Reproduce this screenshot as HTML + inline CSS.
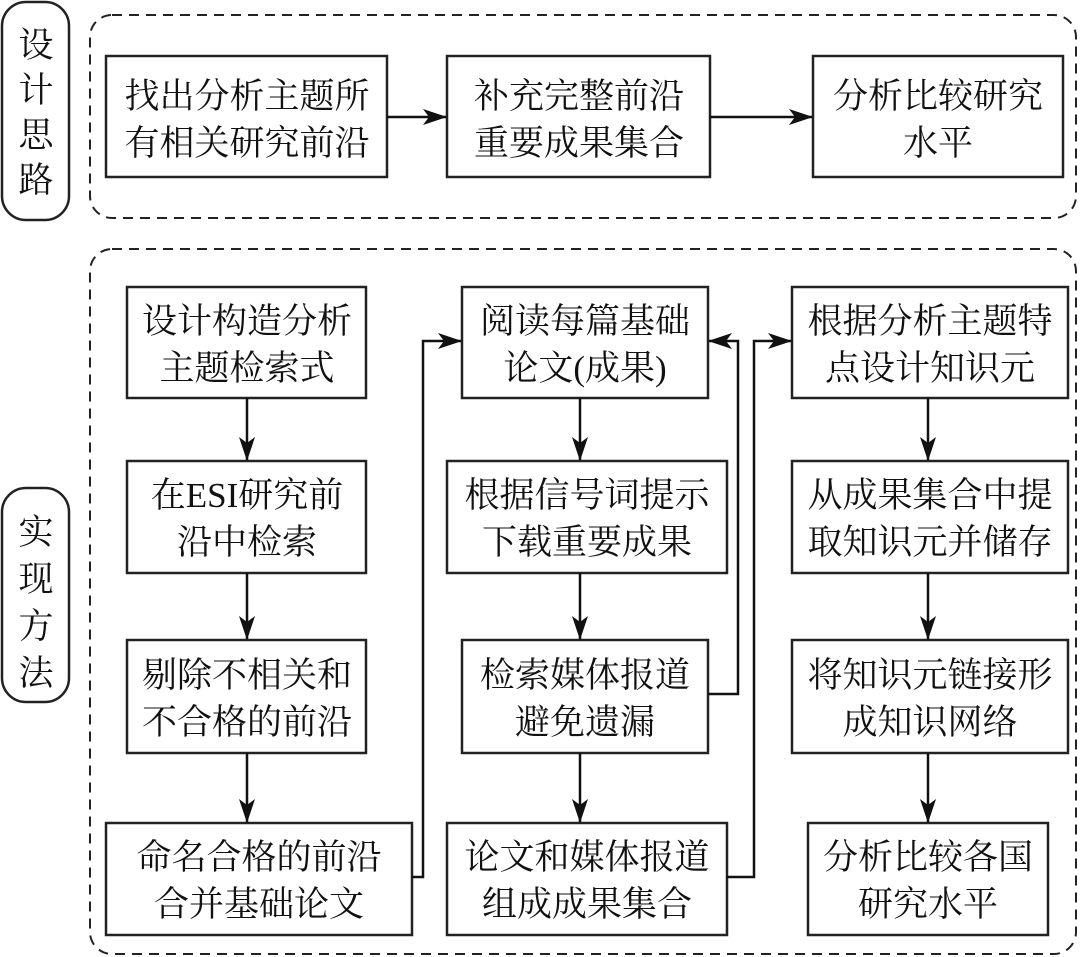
<!DOCTYPE html>
<html><head><meta charset="utf-8"><style>
html,body{margin:0;padding:0;background:#fff;}
svg{display:block;}
text{font-family:"Liberation Serif","Noto Serif CJK SC",serif;font-size:35px;fill:#111;text-anchor:middle;}
</style></head><body>
<svg width="1080" height="957" viewBox="0 0 1080 957" xmlns="http://www.w3.org/2000/svg">
<defs><marker id="a" markerWidth="12" markerHeight="12" refX="11" refY="6" orient="auto" markerUnits="userSpaceOnUse"><path d="M0,0 L12,6 L0,12 L3,6 Z" fill="#111"/></marker>
<marker id="b" viewBox="0 0 24 16" markerWidth="24" markerHeight="16" refX="23" refY="8" orient="auto" markerUnits="userSpaceOnUse"><path d="M0,0 L24,8 L0,16 L6,8 Z" fill="#111"/></marker></defs>
<g fill="none" stroke="#222" stroke-width="2.5">
<rect x="2" y="2" width="67" height="218" rx="24"/>
<rect x="2" y="488" width="67" height="214" rx="24"/>
</g>
<g fill="none" stroke="#222" stroke-width="2" stroke-dasharray="10,7">
<rect x="90" y="15" width="986" height="203" rx="22"/>
<rect x="90" y="249" width="986" height="705" rx="22"/>
</g>
<g fill="#fff" stroke="#222" stroke-width="2.5">
<rect x="106" y="56" width="281" height="121"/>
<rect x="447" y="56" width="263" height="121"/>
<rect x="813" y="56" width="250" height="121"/>
<rect x="127" y="287" width="239" height="111"/>
<rect x="127" y="461" width="239" height="112"/>
<rect x="127" y="640" width="239" height="113"/>
<rect x="106" y="823" width="306" height="112"/>
<rect x="462" y="287" width="246" height="111"/>
<rect x="447" y="461" width="280" height="112"/>
<rect x="462" y="640" width="246" height="113"/>
<rect x="447" y="823" width="280" height="112"/>
<rect x="792" y="287" width="276" height="111"/>
<rect x="792" y="461" width="276" height="112"/>
<rect x="792" y="640" width="276" height="113"/>
<rect x="808" y="823" width="240" height="112"/>
</g>
<g fill="none" stroke="#111" stroke-width="2.5" marker-end="url(#b)">
<line x1="387" y1="117" x2="446" y2="117"/>
<line x1="710" y1="117" x2="812" y2="117"/>
<line x1="247" y1="398" x2="247" y2="460"/>
<line x1="247" y1="573" x2="247" y2="639"/>
<line x1="247" y1="753" x2="247" y2="822"/>
<line x1="580" y1="398" x2="580" y2="460"/>
<line x1="580" y1="573" x2="580" y2="639"/>
<line x1="580" y1="753" x2="580" y2="822"/>
<line x1="928" y1="398" x2="928" y2="460"/>
<line x1="928" y1="573" x2="928" y2="639"/>
<line x1="928" y1="753" x2="928" y2="822"/>
<polyline points="412,877 423,877 423,341 461,341"/>
<polyline points="708,694 738,694 738,341 709,341"/>
<polyline points="727,877 754,877 754,341 791,341"/>
</g>
<text x="36" y="57">设</text><text x="36" y="102">计</text><text x="36" y="147">思</text><text x="36" y="192">路</text>
<text x="36" y="544">实</text><text x="36" y="591">现</text><text x="36" y="638">方</text><text x="36" y="685">法</text>
<text x="247" y="108">找出分析主题所</text><text x="247" y="155">有相关研究前沿</text>
<text x="579" y="108">补充完整前沿</text><text x="579" y="155">重要成果集合</text>
<text x="938" y="108">分析比较研究</text><text x="938" y="155">水平</text>
<text x="247" y="333">设计构造分析</text><text x="247" y="380">主题检索式</text>
<text x="247" y="507">在ESI研究前</text><text x="247" y="554">沿中检索</text>
<text x="247" y="687">剔除不相关和</text><text x="247" y="734">不合格的前沿</text>
<text x="259" y="869">命名合格的前沿</text><text x="259" y="916">合并基础论文</text>
<text x="585" y="333">阅读每篇基础</text><text x="585" y="380">论文(成果)</text>
<text x="587" y="507">根据信号词提示</text><text x="587" y="554">下载重要成果</text>
<text x="585" y="687">检索媒体报道</text><text x="585" y="734">避免遗漏</text>
<text x="587" y="869">论文和媒体报道</text><text x="587" y="916">组成成果集合</text>
<text x="930" y="333">根据分析主题特</text><text x="930" y="380">点设计知识元</text>
<text x="930" y="507">从成果集合中提</text><text x="930" y="554">取知识元并储存</text>
<text x="930" y="687">将知识元链接形</text><text x="930" y="734">成知识网络</text>
<text x="928" y="869">分析比较各国</text><text x="928" y="916">研究水平</text>
</svg>
</body></html>
